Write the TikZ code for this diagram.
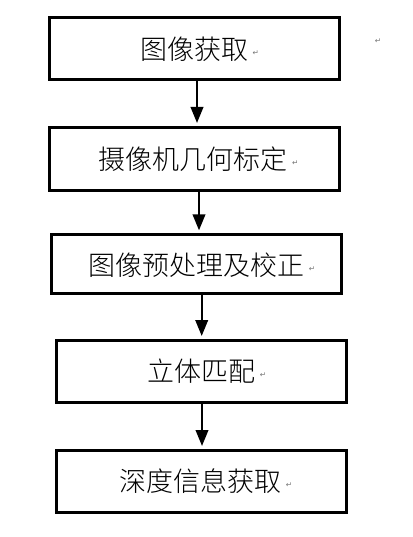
\documentclass[tikz,border=0pt]{standalone}
\usepackage{fontspec}
\newfontfamily\cjk{Noto Sans CJK SC}[UprightFont={* Light}]
\newfontfamily\dv{DejaVu Sans}
\usetikzlibrary{arrows.meta}
\begin{document}
\begin{tikzpicture}[x=1pt,y=-1pt,
  box/.style={draw, line width=3pt, minimum width=290pt, minimum height=62pt, inner sep=0pt},
  lbl/.style={font=\cjk\fontsize{27pt}{27pt}\selectfont, inner sep=0pt},
  pm/.style={font=\dv\fontsize{7.5pt}{7.5pt}\selectfont, text=black!55, inner sep=0pt},
  arr/.style={line width=2.2pt, -{Triangle[width=12.5pt,length=16pt]}, shorten >=3pt}]
\useasboundingbox (0,0) rectangle (412,537);
\node[box] (b1) at (194.2,48.3) {};
\node[box, minimum height=63pt] (b2) at (194.2,159) {};
\node[box, minimum height=58.7pt] (b3) at (196.5,264.2) {};
\node[box] (b4) at (201.5,371.5) {};
\node[box] (b5) at (201.5,481.5) {};
\node[lbl] (t1) at ([yshift=-1pt]b1.center) {图像获取};
\node[lbl] (t2) at ([xshift=-1pt]b2.center) {摄像机几何标定};
\node[lbl] (t3) at ([yshift=-1pt]b3.center) {图像预处理及校正};
\node[lbl] (t4) at (b4.center) {立体匹配};
\node[lbl] (t5) at ([xshift=-1pt]b5.center) {深度信息获取};
\foreach \i in {1,...,5}{
  \node[pm, anchor=west] (p\i) at ([xshift=4pt,yshift=-4pt]t\i.east) {↵};
}
\node[pm] (p0) at (378,41) {↵};
\coordinate (x1) at (197,0);
\coordinate (x2) at (199,0);
\coordinate (x3) at (201.7,0);
\coordinate (x4) at (202,0);
\draw[arr] (b1.south -| x1) -- (b2.north -| x1);
\draw[arr] (b2.south -| x2) -- (b3.north -| x2);
\draw[arr] (b3.south -| x3) -- (b4.north -| x3);
\draw[arr] (b4.south -| x4) -- (b5.north -| x4);
\end{tikzpicture}
\end{document}
